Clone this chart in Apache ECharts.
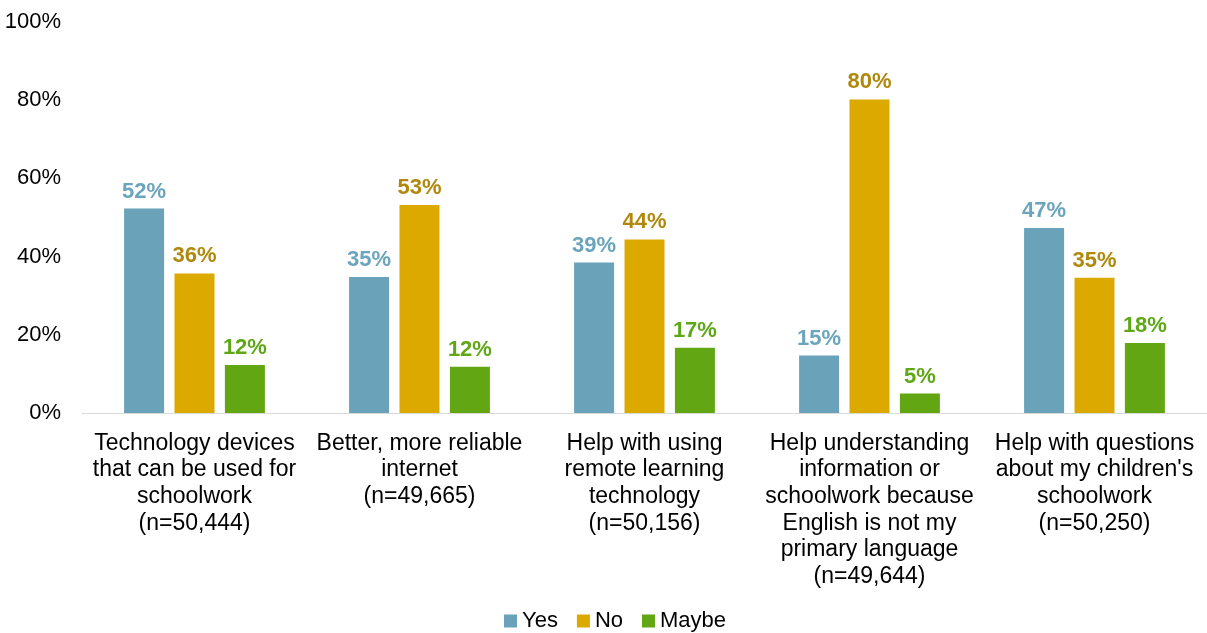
<!DOCTYPE html>
<html>
<head>
<meta charset="utf-8">
<script src="https://cdn.jsdelivr.net/npm/echarts@6/dist/echarts.min.js"></script>
<style>
  html, body { margin: 0; padding: 0; background: #fff; }
  #chart { width: 1207px; height: 633px; }
</style>
</head>
<body>
<div id="chart"></div>
<script>
var categories = [
  'Technology devices\nthat can be used for\nschoolwork\n(n=50,444)',
  'Better, more reliable\ninternet\n(n=49,665)',
  'Help with using\nremote learning\ntechnology\n(n=50,156)',
  'Help understanding\ninformation or\nschoolwork because\nEnglish is not my\nprimary language\n(n=49,644)',
  "Help with questions\nabout my children's\nschoolwork\n(n=50,250)"
];
var yesValues = [52.3, 34.8, 38.5, 14.7, 47.3];
var noValues = [35.7, 53.2, 44.4, 80.2, 34.6];
var maybeValues = [12.3, 11.8, 16.7, 5.0, 17.9];
var yTicks = [0, 20, 40, 60, 80, 100];

var font = 'Liberation Sans, Arial, sans-serif';

function makeSeries(name, data, barColor, labelColor) {
  return {
    name: name,
    type: 'bar',
    data: data,
    barWidth: 40,
    barGap: '26%',
    itemStyle: { color: barColor },
    label: {
      show: true,
      position: 'top',
      distance: 6,
      fontFamily: font,
      fontSize: 22,
      fontWeight: 'bold',
      color: labelColor,
      formatter: function (p) { return Math.round(p.value) + '%'; }
    }
  };
}

var chart = echarts.init(document.getElementById('chart'));
chart.setOption({
  animation: false,
  grid: { left: 82, right: -7, top: 22, bottom: 220 },
  legend: {
    bottom: -4,
    left: 499,
    icon: 'rect',
    itemWidth: 13,
    itemHeight: 13,
    itemGap: 19,
    textStyle: { fontFamily: font, fontSize: 22, color: '#000' },
    data: ['Yes', 'No', 'Maybe']
  },
  xAxis: {
    type: 'category',
    data: categories,
    axisLine: { lineStyle: { color: '#d9d9d9', width: 1 } },
    axisTick: { show: false },
    axisLabel: {
      interval: 0,
      margin: 17,
      fontFamily: font,
      fontSize: 23,
      lineHeight: 26.7,
      color: '#000'
    }
  },
  yAxis: {
    type: 'value',
    min: yTicks[0],
    max: yTicks[yTicks.length - 1],
    interval: 20,
    splitLine: { show: false },
    axisLine: { show: false },
    axisTick: { show: false },
    axisLabel: {
      margin: 21,
      fontFamily: font,
      fontSize: 22,
      color: '#000',
      formatter: '{value}%'
    }
  },
  series: [
    makeSeries('Yes', yesValues, '#69a2b9', '#6ba5bd'),
    makeSeries('No', noValues, '#dba900', '#b0880c'),
    makeSeries('Maybe', maybeValues, '#62a713', '#5fa716')
  ]
});
</script>
</body>
</html>
